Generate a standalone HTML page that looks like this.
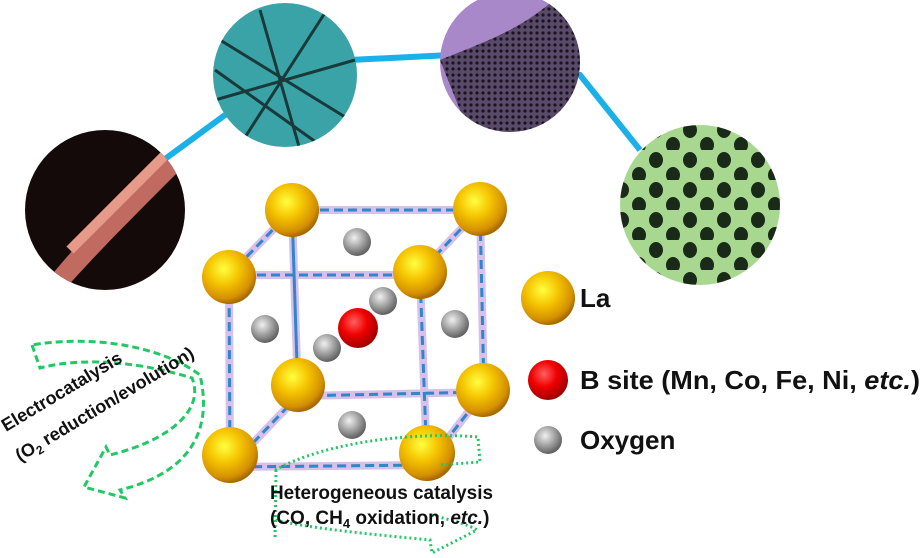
<!DOCTYPE html>
<html><head><meta charset="utf-8"><style>
body{margin:0;background:#fff;width:924px;height:558px;overflow:hidden}
svg{display:block}
text{font-family:"Liberation Sans",Arial,sans-serif;font-weight:bold}
</style></head><body>
<svg width="924" height="558" viewBox="0 0 924 558" xmlns="http://www.w3.org/2000/svg">
<defs>
<radialGradient id="au" cx="0.4" cy="0.35" r="0.65">
<stop offset="0" stop-color="#ffff40"/><stop offset="0.45" stop-color="#f5c400"/><stop offset="0.85" stop-color="#d49000"/><stop offset="1" stop-color="#a86a00"/></radialGradient>
<radialGradient id="rd" cx="0.4" cy="0.35" r="0.65">
<stop offset="0" stop-color="#ff6060"/><stop offset="0.5" stop-color="#f00000"/><stop offset="1" stop-color="#a00000"/></radialGradient>
<radialGradient id="gy" cx="0.4" cy="0.35" r="0.65">
<stop offset="0" stop-color="#f0f0f0"/><stop offset="0.5" stop-color="#a8a8a8"/><stop offset="1" stop-color="#606060"/></radialGradient>
<pattern id="holes" width="34" height="30" patternUnits="userSpaceOnUse">
<rect width="34" height="30" fill="#a8d890"/><ellipse cx="10" cy="10" rx="7" ry="8" fill="#1a2a18"/><ellipse cx="27" cy="25" rx="7" ry="8" fill="#1a2a18"/></pattern>
<pattern id="dots" width="6" height="6" patternUnits="userSpaceOnUse">
<rect width="6" height="6" fill="#5a4a6a"/><circle cx="3" cy="3" r="1.6" fill="#1a1420"/></pattern>
<clipPath id="c1"><circle cx="105" cy="210" r="80"/></clipPath>
<clipPath id="c2"><circle cx="285" cy="75" r="72"/></clipPath>
<clipPath id="c3"><circle cx="510" cy="62" r="70"/></clipPath>
<clipPath id="c4"><circle cx="700" cy="205" r="80"/></clipPath>
</defs>
<polyline points="150,170 225,115 350,60 450,55 580,75 640,150" fill="none" stroke="#1ab0e8" stroke-width="6"/>
<g clip-path="url(#c1)"><rect x="20" y="125" width="170" height="170" fill="#140a0a"/>
<path d="M40,290 C70,250 110,210 180,140 L190,160 C130,220 90,260 60,295Z" fill="#c06a60"/>
<path d="M70,250 C100,220 130,190 170,150" stroke="#e89a8a" stroke-width="10" fill="none"/></g>
<g clip-path="url(#c2)"><rect x="210" y="0" width="150" height="150" fill="#3aa3a8"/>
<g stroke="#1a3a3a" stroke-width="3"><line x1="220" y1="40" x2="350" y2="120"/><line x1="260" y1="10" x2="300" y2="150"/><line x1="215" y1="100" x2="355" y2="60"/><line x1="330" y1="5" x2="240" y2="145"/><line x1="215" y1="70" x2="320" y2="145"/></g></g>
<g clip-path="url(#c3)"><rect x="438" y="-10" width="145" height="145" fill="#a888c8"/>
<path d="M470,135 L440,60 C490,40 520,30 560,-5 L590,-5 L590,135Z" fill="url(#dots)"/></g>
<g clip-path="url(#c4)"><rect x="618" y="123" width="165" height="165" fill="url(#holes)"/></g>
<g stroke="#d8c0ec" stroke-width="8" fill="none" stroke-linecap="round">
<path d="M292,210 H480 L484,392 L298,396 Z M229,275 H420 L427,465 L230,467 Z M292,210 L229,275 M480,209 L420,272 M484,392 L427,465 M298,396 L230,467 M292,210 L298,396"/></g>
<g stroke="#2f86c8" stroke-width="3" fill="none" stroke-dasharray="9,5">
<path d="M292,210 H480 L484,392 L298,396 Z M229,275 H420 L427,465 L230,467 Z M292,210 L229,275 M480,209 L420,272 M484,392 L427,465 M298,396 L230,467 M292,210 L298,396"/></g>
<g fill="url(#gy)"><circle cx="357" cy="242" r="14"/><circle cx="265" cy="329" r="14"/><circle cx="455" cy="324" r="14"/><circle cx="383" cy="301" r="14"/><circle cx="327" cy="348" r="14"/><circle cx="352" cy="425" r="14"/></g>
<circle cx="358" cy="328" r="20" fill="url(#rd)"/>
<g fill="url(#au)"><circle cx="292" cy="210" r="27"/><circle cx="480" cy="209" r="27"/><circle cx="229" cy="277" r="27"/><circle cx="420" cy="272" r="27"/><circle cx="298" cy="385" r="27"/><circle cx="483" cy="390" r="27"/><circle cx="230" cy="455" r="28"/><circle cx="427" cy="453" r="28"/></g>
<circle cx="548" cy="298" r="27" fill="url(#au)"/>
<circle cx="548" cy="380" r="20" fill="url(#rd)"/>
<circle cx="548" cy="440" r="14" fill="url(#gy)"/>
<text x="580" y="307" font-size="26" fill="#111">La</text>
<text x="580" y="389" font-size="26" fill="#111" textLength="340" lengthAdjust="spacingAndGlyphs">B site (Mn, Co, Fe, Ni, <tspan font-style="italic">etc.</tspan>)</text>
<text x="580" y="449" font-size="26" fill="#111">Oxygen</text>
<path d="M32,345 L40,368 C90,355 150,365 192,378 C205,410 170,440 110,455 L106,447 L84,487 L125,498 L120,490 C180,475 215,440 200,375 C160,345 90,335 32,345Z" fill="none" stroke="#22c864" stroke-width="3" stroke-dasharray="7,4"/>
<text transform="translate(6,432) rotate(-31)" font-size="18" fill="#111">Electrocatalysis</text>
<text transform="translate(20,462) rotate(-31)" font-size="18" fill="#111">(O<tspan font-size="12" dy="4">2</tspan><tspan dy="-4"> reduction/evolution)</tspan></text>
<path d="M275,470 C330,440 420,432 478,437 L480,462 L440,465 M276,470 L275,540 M432,515 C450,520 470,525 477,530 L432,553 L430,540 C380,535 320,530 275,520" fill="none" stroke="#22c864" stroke-width="3" stroke-dasharray="2,3"/>
<text x="270" y="499" font-size="19" fill="#111" textLength="223" lengthAdjust="spacingAndGlyphs">Heterogeneous catalysis</text>
<text x="270" y="524" font-size="19" fill="#111">(CO, CH<tspan font-size="13" dy="4">4</tspan><tspan dy="-4"> oxidation, </tspan><tspan font-style="italic">etc.</tspan>)</text>
</svg>
</body></html>
